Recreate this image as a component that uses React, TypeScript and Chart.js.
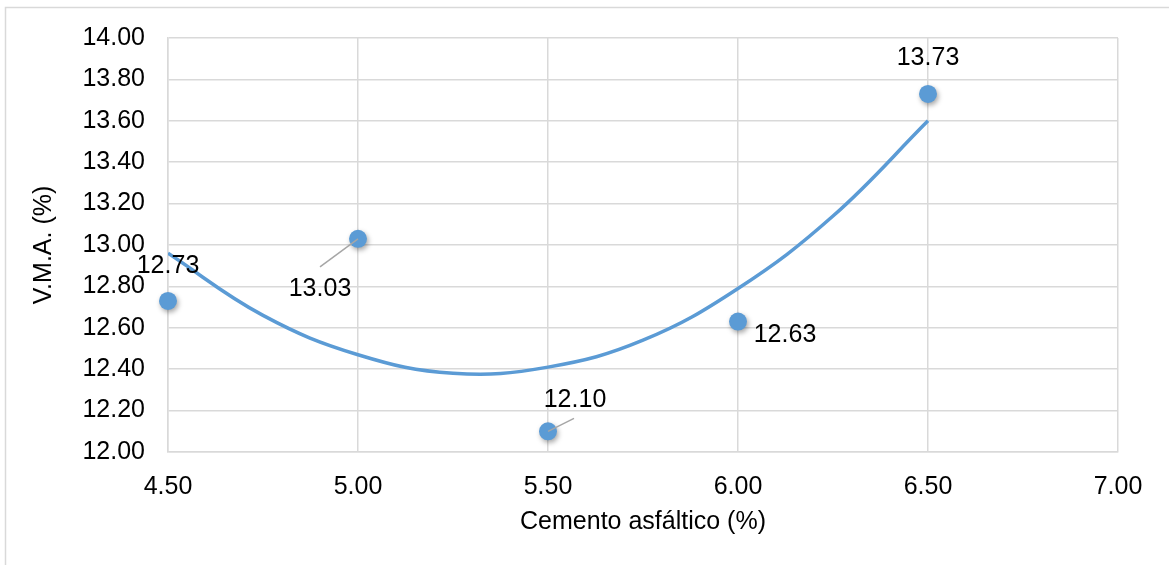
import React, { useEffect, useRef } from "react";
import { Chart, registerables } from "chart.js";

Chart.register(...registerables);

// ---- data ----
const cementoX: number[] = [4.5, 5.0, 5.5, 6.0, 6.5];
const vmaY: number[] = [12.73, 13.03, 12.1, 12.63, 13.73];
// polynomial trendline
const trendX: number[] = [4.5, 4.75, 5.0, 5.25, 5.5, 5.75, 6.0, 6.25, 6.5];
const trendY: number[] = [12.96, 12.66, 12.47, 12.38, 12.41, 12.54, 12.79, 13.14, 13.6];
const xTickMin = 4.5;
const xTickMax = 7.0;
const xTickStep = 0.5;
const yTickMin = 12.0;
const yTickMax = 14.0;
const yTickStep = 0.2;
const xTitle = "Cemento asfáltico (%)";
const yTitle = "V.M.A. (%)";

// ---- styling / layout (not data) ----
const FONT = "'Liberation Sans', Arial, sans-serif";
const FS = 25;
const BLUE = "#5b9bd5";
const GRID = "#d9d9d9";
// label offsets from each point (dx, dy) and optional leader line start
const labelOffsets = [
  { dx: 0, dy: -35, leader: null as null | [number, number] },
  { dx: -38, dy: 50, leader: [-38, 28] as [number, number] },
  { dx: 27, dy: -31, leader: [26, -13] as [number, number] },
  { dx: 47, dy: 14, leader: null },
  { dx: 0, dy: -36, leader: null },
];

const decorPlugin = {
  id: "decor",
  beforeDraw(chart: any) {
    const ctx = chart.ctx;
    ctx.save();
    ctx.fillStyle = "#ffffff";
    ctx.fillRect(0, 0, chart.width, chart.height);
    ctx.strokeStyle = GRID;
    ctx.lineWidth = 1.5;
    ctx.beginPath();
    ctx.moveTo(5.5, chart.height + 2);
    ctx.lineTo(5.5, 7.5);
    ctx.lineTo(chart.width + 2, 7.5);
    ctx.stroke();
    ctx.restore();
  },
  beforeDatasetDraw(chart: any, args: any) {
    if (args.index === 0) {
      const ctx = chart.ctx;
      ctx.save();
      ctx.shadowColor = "rgba(0,0,0,0.35)";
      ctx.shadowBlur = 5;
      ctx.shadowOffsetX = 1.5;
      ctx.shadowOffsetY = 2.5;
    }
  },
  afterDatasetDraw(chart: any, args: any) {
    if (args.index === 0) chart.ctx.restore();
  },
  afterDraw(chart: any) {
    const ctx = chart.ctx;
    const meta = chart.getDatasetMeta(0);
    ctx.save();
    ctx.font = `${FS}px ${FONT}`;
    ctx.textAlign = "center";
    ctx.textBaseline = "middle";
    meta.data.forEach((el: any, i: number) => {
      const o = labelOffsets[i];
      if (!o) return;
      if (o.leader) {
        ctx.strokeStyle = "#a6a6a6";
        ctx.lineWidth = 1.5;
        ctx.beginPath();
        ctx.moveTo(el.x + o.leader[0], el.y + o.leader[1]);
        ctx.lineTo(el.x, el.y);
        ctx.stroke();
      }
      ctx.fillStyle = "#000000";
      ctx.fillText(vmaY[i].toFixed(2), el.x + o.dx, el.y + o.dy);
    });
    // axis titles
    const area = chart.chartArea;
    ctx.fillText(xTitle, (area.left + area.right) / 2, 522);
    ctx.save();
    ctx.translate(44, (area.top + area.bottom) / 2);
    ctx.rotate(-Math.PI / 2);
    ctx.fillText(yTitle, 0, 0);
    ctx.restore();
    ctx.restore();
  },
};

export default function App() {
  const ref = useRef<HTMLCanvasElement | null>(null);
  useEffect(() => {
    if (!ref.current) return;
    const chart = new Chart(ref.current, {
      type: "scatter",
      data: {
        datasets: [
          {
            label: "V.M.A.",
            data: cementoX.map((x, i) => ({ x, y: vmaY[i] })),
            backgroundColor: BLUE,
            borderColor: BLUE,
            pointRadius: 9,
            pointHoverRadius: 9,
            borderWidth: 0,
            clip: false as any,
            order: 0,
          },
          {
            type: "line" as any,
            label: "trend",
            data: trendX.map((x, i) => ({ x, y: trendY[i] })),
            borderColor: BLUE,
            borderWidth: 3.5,
            pointRadius: 0,
            fill: false,
            tension: 0.4,
            showLine: true,
            order: 1,
          },
        ],
      },
      options: {
        animation: false,
        responsive: false,
        devicePixelRatio: 1,
        layout: { padding: { top: 37, right: 51, left: 0, bottom: 0 } },
        plugins: {
          legend: { display: false },
          tooltip: { enabled: false },
          title: { display: false },
        },
        scales: {
          x: {
            type: "linear",
            min: xTickMin,
            max: xTickMax,
            ticks: {
              stepSize: xTickStep,
              color: "#000",
              font: { family: FONT, size: FS },
              padding: 20,
              maxRotation: 0,
              callback: (v: any) => Number(v).toFixed(2),
            },
            grid: { color: GRID, lineWidth: 1.5, drawTicks: false },
            border: { display: true, color: GRID, width: 1.5 },
            afterFit: (s: any) => {
              s.height = 113;
            },
          },
          y: {
            type: "linear",
            min: yTickMin,
            max: yTickMax,
            ticks: {
              stepSize: yTickStep,
              color: "#000",
              font: { family: FONT, size: FS },
              padding: 23,
              callback: (v: any) => Number(v).toFixed(2),
            },
            grid: { color: GRID, lineWidth: 1.5, drawTicks: false },
            border: { display: true, color: GRID, width: 1.5 },
            afterFit: (s: any) => {
              s.width = 168;
            },
          },
        },
      },
      plugins: [decorPlugin],
    });
    return () => chart.destroy();
  }, []);
  return (
    <div style={{ position: "fixed", left: 0, top: 0, width: 1169, height: 565, background: "#fff" }}>
      <canvas ref={ref} width={1169} height={565} style={{ display: "block" }} />
    </div>
  );
}
